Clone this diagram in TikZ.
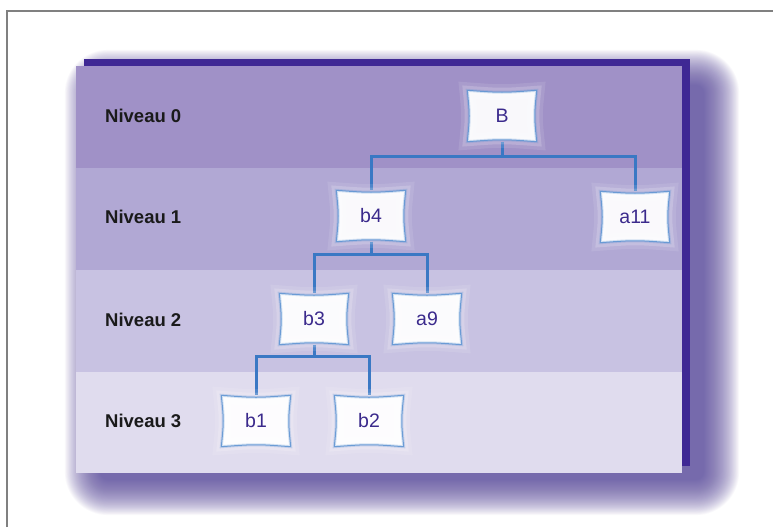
\documentclass[tikz,border=0pt]{standalone}
\usepackage{fontspec}
\setmainfont{Liberation Sans}
\usetikzlibrary{calc}
\definecolor{bandA}{HTML}{A091C7}
\definecolor{bandB}{HTML}{B1A8D4}
\definecolor{bandC}{HTML}{C8C2E2}
\definecolor{bandD}{HTML}{E0DCEE}
\definecolor{darkframe}{HTML}{3F2894}
\definecolor{shadowc}{HTML}{5A4A9E}
\definecolor{linec}{HTML}{3A78C4}
\definecolor{boxborder}{HTML}{5B92D2}
\definecolor{txtc}{HTML}{3B2A8C}
\definecolor{lvlc}{HTML}{1A1A1A}
\definecolor{framec}{HTML}{808080}
\pgfdeclarelayer{back}
\pgfdeclarelayer{conn}
\pgfdeclarelayer{box}
\pgfsetlayers{back,conn,box,main}
\newcommand\pillowpath[1]{(#1.north west) .. controls ($(#1.north)+(0,2.6)$) .. (#1.north east) .. controls ($(#1.east)+(-2.6,0)$) .. (#1.south east) .. controls ($(#1.south)+(0,-2.6)$) .. (#1.south west) .. controls ($(#1.west)+(2.6,0)$) .. (#1.north west) -- cycle}
\newcommand\drawpillow[1]{%
  \draw[white, line width=16pt, opacity=0.10] \pillowpath{#1};
  \draw[white, line width=9pt, opacity=0.18] \pillowpath{#1};
  \fill[white, opacity=0.94] \pillowpath{#1};
  \draw[boxborder, line width=3pt, opacity=0.25] \pillowpath{#1};
  \draw[boxborder, line width=1pt, opacity=0.85] \pillowpath{#1};
}
\begin{document}
\begin{tikzpicture}[x=1pt,y=-1pt,
  lvl/.style={anchor=west, text=lvlc, font=\fontsize{18.5}{22}\selectfont\bfseries, inner sep=0pt},
  tn/.style={minimum width=69pt, minimum height=51pt, inner sep=0pt, text=txtc, font=\fontsize{19.5}{22}\selectfont},
  conn/.style={linec, line width=3pt}]
\useasboundingbox (0,0) rectangle (773,527);
\begin{pgfonlayer}{back}
  \fill[white] (0,0) rectangle (773,527);
  \draw[framec, line width=1.6pt] (7,527) -- (7,11) -- (773,11);
  \foreach \i [evaluate=\i as \d using \i*0.9, evaluate=\i as \r using \i*0.9+8] in {0,...,39} {
    \fill[shadowc, opacity=0.035, rounded corners=\r pt]
      ({100-\d},{85-\d}) rectangle ({704+\d},{480+\d});
  }
  \fill[darkframe] (84,59) rectangle (690,466);
  \fill[bandA] (76,66) rectangle (682,168);
  \fill[bandB] (76,168) rectangle (682,270);
  \fill[bandC] (76,270) rectangle (682,372);
  \fill[bandD] (76,372) rectangle (682,473);
\end{pgfonlayer}
\node[lvl] (L0) at (105,116) {Niveau 0};
\node[lvl] (L1) at (105,217) {Niveau 1};
\node[lvl] (L2) at (105,320) {Niveau 2};
\node[lvl] (L3) at (105,421) {Niveau 3};
\node[tn] (B) at (502,116) {B};
\node[tn] (a11) at (635,217) {a11};
\node[tn] (b4) at (371,216) {b4};
\node[tn] (b3) at (314,319) {b3};
\node[tn] (a9) at (427,319) {a9};
\node[tn] (b1) at (256,421) {b1};
\node[tn] (b2) at (369,421) {b2};
\begin{pgfonlayer}{box}
  \drawpillow{B}\drawpillow{a11}\drawpillow{b4}\drawpillow{b3}
  \drawpillow{a9}\drawpillow{b1}\drawpillow{b2}
\end{pgfonlayer}
\begin{pgfonlayer}{conn}
  \draw[conn] (B.south) -- ++(0,15) coordinate (jB) -| (b4.north);
  \draw[conn] (jB) -| (a11.north);
  \draw[conn] (b4.south) -- ++(0,13) coordinate (j4) -| (b3.north);
  \draw[conn] (j4) -| (a9.north);
  \draw[conn] (b3.south) -- ++(0,12) coordinate (j3) -| (b1.north);
  \draw[conn] (j3) -| (b2.north);
\end{pgfonlayer}
\end{tikzpicture}
\end{document}
